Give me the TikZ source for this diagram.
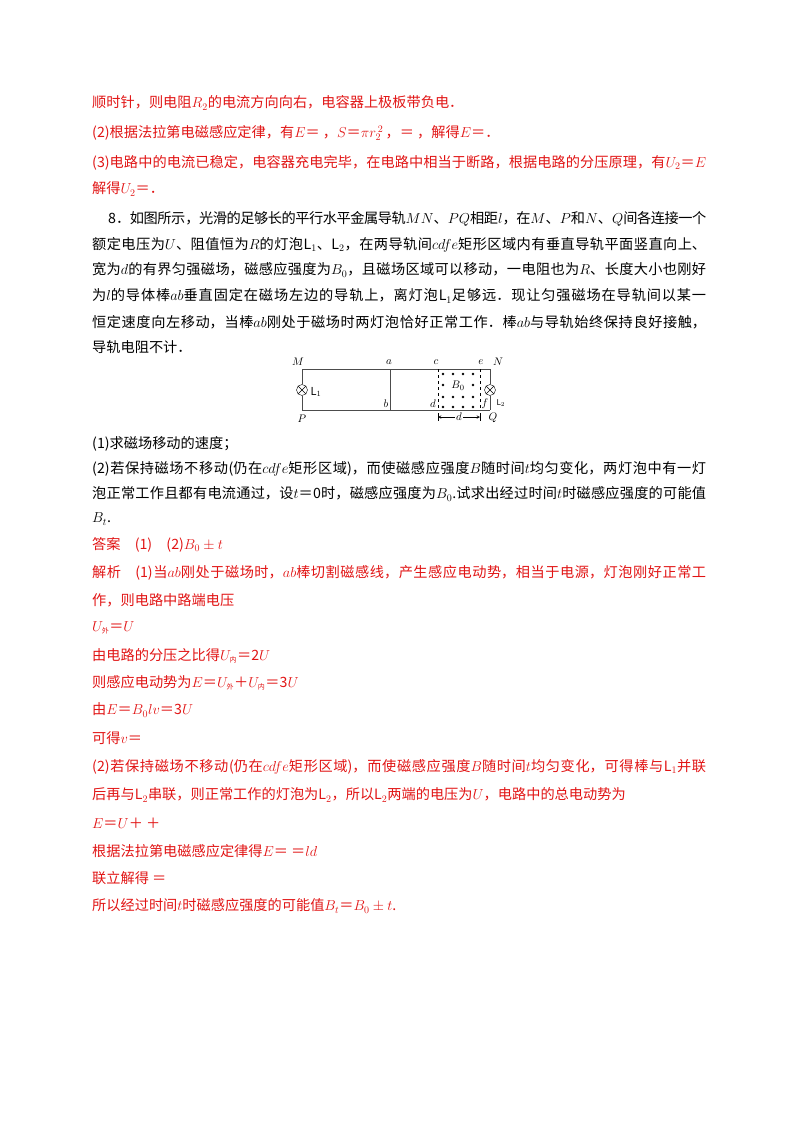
\documentclass[tikz,border=0pt]{standalone}
\usepackage{fontspec}
\setmainfont{Noto Sans CJK SC}
\XeTeXlinebreaklocale "zh"
\XeTeXlinebreakskip=0pt plus 2pt minus 0.5pt
\definecolor{ans}{RGB}{225,20,20}
\newcommand{\tl}[2]{\node[anchor=west,inner sep=0pt] at (92,#1) {#2};}
\newcommand{\fl}[3][92]{\node[anchor=west,inner sep=0pt] at (#1,#2) {\parbox{\dimexpr 706pt-#1pt\relax}{\parfillskip=0pt #3}};}
\begin{document}
\begin{tikzpicture}[x=1pt,y=-1pt,font=\fontsize{14.2}{17}\selectfont,
  rail/.style={line width=0.8pt,black!70},
  dsh/.style={dashed,line width=0.7pt}]
\useasboundingbox (0,0) rectangle (800,1132);
\begin{scope}[ans]
\tl{103}{顺时针，则电阻$R_2$的电流方向向右，电容器上极板带负电．}
\tl{133}{(2)根据法拉第电磁感应定律，有$E$＝ ，$S$＝$\pi r_2^{\,2}$\,，＝ ，解得$E$＝．}
\fl{163}{(3)电路中的电流已稳定，电容器充电完毕，在电路中相当于断路，根据电路的分压原理，有$U_2$＝$E$}
\tl{189}{解得$U_2$＝．}
\end{scope}
\fl[108]{219}{8．如图所示，光滑的足够长的平行水平金属导轨$MN$、$PQ$相距$l$，在$M$、$P$和$N$、$Q$间各连接一个}
\fl{245}{额定电压为$U$、阻值恒为$R$的灯泡L$_1$、L$_2$，在两导轨间$cdfe$矩形区域内有垂直导轨平面竖直向上、}
\fl{270}{宽为$d$的有界匀强磁场，磁感应强度为$B_0$，且磁场区域可以移动，一电阻也为$R$、长度大小也刚好}
\fl{296}{为$l$的导体棒$ab$垂直固定在磁场左边的导轨上，离灯泡L$_1$足够远．现让匀强磁场在导轨间以某一}
\fl{322}{恒定速度向左移动，当棒$ab$刚处于磁场时两灯泡恰好正常工作．棒$ab$与导轨始终保持良好接触，}
\tl{347}{导轨电阻不计．}
% diagram
\begin{scope}[font=\fontsize{11}{12}\selectfont]
\coordinate (M) at (302,369); \coordinate (N) at (490,369);
\coordinate (P) at (302,410); \coordinate (Q) at (490,410);
\node[circle,draw,inner sep=0pt,minimum size=11pt,fill=white] (L1) at (302,390) {};
\node[circle,draw,inner sep=0pt,minimum size=11pt,fill=white] (L2) at (490,390) {};
\draw[rail] (M) -- (N) (P) -- (Q) (M) -- (L1) -- (P) (N) -- (L2) -- (Q);
\draw (L1.north west) -- (L1.south east) (L1.north east) -- (L1.south west);
\draw (L2.north west) -- (L2.south east) (L2.north east) -- (L2.south west);
\coordinate (a) at (390,369); \coordinate (b) at (390,410);
\draw[rail] (a) -- (b);
\coordinate (c) at (438,369); \coordinate (d) at (438,410);
\coordinate (e) at (480,369); \coordinate (f) at (480,410);
\draw[dsh] (c) -- (d) (e) -- (f);
\foreach \x in {443,453,463,473} \foreach \y in {374,385,397,407} \fill (\x,\y) circle (1.4pt);
\node at (298,362) {$M$}; \node at (498,362) {$N$};
\node at (302,419) {$P$}; \node at (493,418) {$Q$};
\node at (389,362) {$a$}; \node at (386,404) {$b$};
\node at (436,362) {$c$}; \node at (433,404) {$d$};
\node at (481,362) {$e$}; \node at (485,404) {$f$};
\node[anchor=west] at (307,392) {L$_1$}; \node[anchor=west,font=\fontsize{8}{9}\selectfont] at (493,403) {L$_2$};
\node[fill=white,inner sep=0.5pt] at (458,386) {$B_0$};
\coordinate (d1) at (438,417); \coordinate (d2) at (480,417);
\node[inner sep=1pt] (dl) at (459,417) {$d$};
\draw[-stealth,line width=0.5pt] (dl) -- (d1);
\draw[-stealth,line width=0.5pt] (dl) -- (d2);
\draw[line width=0.5pt] (438,413) -- (438,421) (480,413) -- (480,421);
\end{scope}
\tl{444}{(1)求磁场移动的速度；}
\fl{469}{(2)若保持磁场不移动(仍在$cdfe$矩形区域)，而使磁感应强度$B$随时间$t$均匀变化，两灯泡中有一灯}
\fl{494}{泡正常工作且都有电流通过，设$t$＝0时，磁感应强度为$B_0$.试求出经过时间$t$时磁感应强度的可能值}
\tl{519}{$B_t$.}
\begin{scope}[ans]
\tl{545}{答案\quad (1)\quad (2)$B_0\pm t$}
\fl{573}{解析\quad (1)当$ab$刚处于磁场时，$ab$棒切割磁感线，产生感应电动势，相当于电源，灯泡刚好正常工}
\tl{600}{作，则电路中路端电压}
\tl{628}{$U_{\mbox{\scriptsize 外}}$＝$U$}
\tl{656}{由电路的分压之比得$U_{\mbox{\scriptsize 内}}$＝2$U$}
\tl{683}{则感应电动势为$E$＝$U_{\mbox{\scriptsize 外}}$＋$U_{\mbox{\scriptsize 内}}$＝3$U$}
\tl{710}{由$E$＝$B_0lv$＝3$U$}
\tl{738}{可得$v$＝}
\fl{767}{(2)若保持磁场不移动(仍在$cdfe$矩形区域)，而使磁感应强度$B$随时间$t$均匀变化，可得棒与L$_1$并联}
\tl{795}{后再与L$_2$串联，则正常工作的灯泡为L$_2$，所以L$_2$两端的电压为$U$，电路中的总电动势为}
\tl{823}{$E$＝$U$＋ ＋}
\tl{851}{根据法拉第电磁感应定律得$E$＝ ＝$ld$}
\tl{878}{联立解得 ＝}
\tl{906}{所以经过时间$t$时磁感应强度的可能值$B_t$＝$B_0\pm t$.}
\end{scope}
\end{tikzpicture}
\end{document}
